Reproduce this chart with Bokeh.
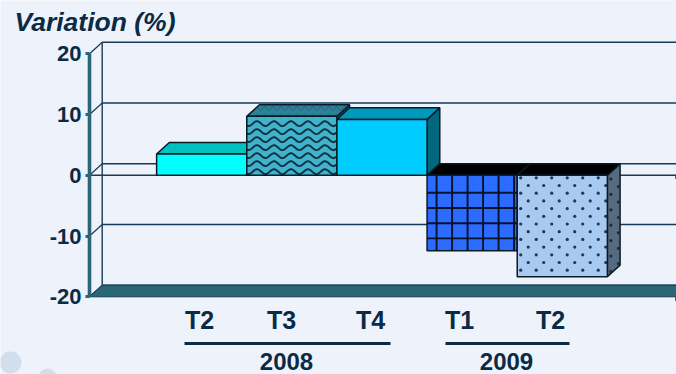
import numpy as np
from bokeh.plotting import figure
from bokeh.embed import file_html
from bokeh.resources import INLINE
from bokeh.models import BoxAnnotation, FixedTicker, Label, Range1d

# Quarterly variation, in percent
quarters = ["T2", "T3", "T4", "T1", "T2"]
values = [3.5, 9.7, 9.2, -12.4, -16.7]
years = ["2008", "2009"]
y_ticks = [-20, -10, 0, 10, 20]
y_labels = ["-20", "-10", "0", "10", "20"]
title_text = "Variation (%)"

front_colors = ["#00ffff", "#3fb2cc", "#00ccff", "#2b6cff", "#a8c9f0"]
top_colors = ["#00c0c0", "#2a8299", "#0099bb", "#000000", "#000000"]
side_colors = ["#007f80", "#1f6376", "#00677f", "#14358a", "#566a80"]

INK = "#0b2a45"
TEAL = "#2a6678"
BG = "#eef2fa"
LINE = "#173a58"

# Pixel layout of the page and the scale of each axis
W, H = 676, 374
X_PER_BAR, X_ZERO = 90.15, 201.2
Y_PER_UNIT, Y_ZERO = 6.075, 174.8
LEFT, RIGHT, LABEL_ANCHOR = 89, 676, 291


def xd(px):
    return (px - X_ZERO) / X_PER_BAR


def yd(px):
    return (Y_ZERO - px) / Y_PER_UNIT


DX = 12.7 / X_PER_BAR
DY = 11.6 / Y_PER_UNIT

p = figure(
    width=W, height=H, output_backend="svg", toolbar_location=None,
    x_range=Range1d(xd(0), xd(W)), y_range=Range1d(yd(H), yd(0)),
    min_border=0, background_fill_color=BG, border_fill_color=BG,
    outline_line_color=None,
)
p.grid.visible = False

# Soft decorative discs in the lower left corner
for cx, cy, r in [(10, 362, 11), (47, 377, 9)]:
    p.add_layout(BoxAnnotation(
        left=xd(cx - r), right=xd(cx + r), top=yd(cy - r), bottom=yd(cy + r),
        fill_color="#d3deed", fill_alpha=1, line_color=None, border_radius=r,
        level="underlay",
    ))

# Back wall: gridlines, their returns to the axis, and the left edge
x_left, x_right = xd(LEFT), xd(RIGHT)
p.segment(x0=[x_left + DX] * 5, x1=[x_right] * 5,
          y0=[t + DY for t in y_ticks], y1=[t + DY for t in y_ticks],
          line_color=LINE, line_width=1.4)
p.segment(x0=[x_left] * 5, x1=[x_left + DX] * 5,
          y0=y_ticks, y1=[t + DY for t in y_ticks],
          line_color=LINE, line_width=1.2)
p.segment(x0=[x_left + DX], x1=[x_left + DX],
          y0=[y_ticks[0] + DY], y1=[y_ticks[-1] + DY],
          line_color=LINE, line_width=1.4)

# Floor of the box
p.patch([x_left, x_left + DX, x_right, x_right],
        [-20, -20 + DY, -20 + DY, -20],
        fill_color=TEAL, line_color="#143c52", line_width=1)

# Zero line on the front plane and the small closing ticks at the right
p.segment(x0=[x_left], x1=[x_right], y0=[0], y1=[0],
          line_color=LINE, line_width=1.4)
p.segment(x0=[x_right - 0.006] * 2, x1=[x_right - 0.006] * 2,
          y0=[0, -20], y1=[-0.6, -20.7], line_color=LINE, line_width=1.4)


def wave_texture(x0, x1, lo, hi):
    """Rows of wavy lines that fill a bar's front face."""
    xs, ys = [], []
    grid = np.linspace(x0, x1, 90)
    row = lo + 0.6
    while row < hi - 0.2:
        xs.append(grid)
        ys.append(row + 0.4 * np.sin(grid * X_PER_BAR * 2 * np.pi / 17))
        row += 8.0 / Y_PER_UNIT
    return xs, ys


def cross_texture(x0, x1, lo, hi):
    """Square lattice of lines across a bar's front face."""
    vx = x0 + np.arange(9.5, (x1 - x0) * X_PER_BAR, 15.5) / X_PER_BAR
    hy = hi - np.arange(17.5, (hi - lo) * Y_PER_UNIT, 15.2) / Y_PER_UNIT
    return vx, hy


def dot_texture(x0, x1, lo, hi):
    """Staggered dots, one lattice step per row."""
    px, py = [], []
    rows = np.arange(2.5, (hi - lo) * Y_PER_UNIT, 7.7)
    for n, r in enumerate(rows):
        start = 7.5 if n % 2 else 0.0
        cols = np.arange(start + 3.5, (x1 - x0) * X_PER_BAR, 15.5)
        px.extend(x0 + cols / X_PER_BAR)
        py.extend([hi - r / Y_PER_UNIT] * len(cols))
    return px, py


# Bars, left to right, so that each one overlaps the one before it
edge = {"line_color": "#0a1a26", "line_width": 1.5}
for i, v in enumerate(values):
    x0, x1 = i - 0.5, i + 0.5
    hi, lo = max(v, 0), min(v, 0)
    top_pat = {}
    if i == 1:
        top_pat = {"hatch_pattern": "horizontal_wave", "hatch_color": "#0a2030",
                   "hatch_alpha": 0.35, "hatch_scale": 8, "hatch_weight": 1}
    p.patch([x1, x1 + DX, x1 + DX, x1], [lo, lo + DY, hi + DY, hi],
            fill_color=side_colors[i], **edge)
    p.patch([x0, x0 + DX, x1 + DX, x1], [hi, hi + DY, hi + DY, hi],
            fill_color=top_colors[i], **edge, **top_pat)
    p.quad(left=x0, right=x1, top=hi, bottom=lo,
           fill_color=front_colors[i], line_color=None)
    if i == 1:
        wx, wy = wave_texture(x0, x1, lo, hi)
        p.multi_line(wx, wy, line_color="#12303f", line_width=1.9)
    elif i == 3:
        vx, hy = cross_texture(x0, x1, lo, hi)
        p.segment(x0=vx, x1=vx, y0=[lo] * len(vx), y1=[hi] * len(vx),
                  line_color="#07122a", line_width=1.9)
        p.segment(x0=[x0] * len(hy), x1=[x1] * len(hy), y0=hy, y1=hy,
                  line_color="#07122a", line_width=1.9)
    elif i == 4:
        dx_, dy_ = dot_texture(x0, x1, lo, hi)
        p.scatter(dx_, dy_, size=3.2, marker="circle",
                  fill_color="#24384f", line_color=None)
        sx, sy = dot_texture(x1, x1 + DX, lo + 0.8, hi - 0.2)
        p.scatter(sx, sy, size=3.2, marker="circle",
                  fill_color="#1d2c3d", line_color=None)
    p.quad(left=x0, right=x1, top=hi, bottom=lo,
           fill_color=None, **edge)

# Value axis
p.yaxis.fixed_location = xd(LEFT)
p.yaxis.bounds = (y_ticks[0], y_ticks[-1])
p.yaxis.ticker = FixedTicker(ticks=y_ticks)
p.yaxis.major_label_overrides = dict(zip(y_ticks, y_labels))
p.yaxis.axis_line_color = TEAL
p.yaxis.axis_line_width = 3.6
p.yaxis.major_tick_line_color = TEAL
p.yaxis.major_tick_line_width = 3
p.yaxis.major_tick_in = 0
p.yaxis.major_tick_out = 4
p.yaxis.minor_tick_line_color = None
p.yaxis.major_label_text_font = "Liberation Sans"
p.yaxis.major_label_text_font_style = "bold"
p.yaxis.major_label_text_font_size = "22px"
p.yaxis.major_label_text_color = INK
p.yaxis.major_label_standoff = 4

# Quarter labels sit a little off the bar centres
label_px = [199, 281, 370, 459, 550]
label_pos = [round(xd(px), 4) for px in label_px]
p.xaxis.fixed_location = yd(LABEL_ANCHOR)
p.xaxis.ticker = FixedTicker(ticks=label_pos)
p.xaxis.major_label_overrides = dict(zip(label_pos, quarters))
p.xaxis.axis_line_color = None
p.xaxis.major_tick_line_color = None
p.xaxis.minor_tick_line_color = None
p.xaxis.major_label_text_font = "Liberation Sans"
p.xaxis.major_label_text_font_style = "bold"
p.xaxis.major_label_text_font_size = "25px"
p.xaxis.major_label_text_color = INK
p.xaxis.major_label_standoff = 8

# Year brackets and year names below the quarters
for (a, b), c, name in zip([(184, 390), (445, 569)], [286, 506], years):
    p.add_layout(BoxAnnotation(
        left=xd(a), right=xd(b), top=yd(341.5), bottom=yd(344.5),
        fill_color=INK, fill_alpha=1, line_color=None,
    ))
    p.add_layout(Label(
        x=xd(c), y=yd(360.5), text=name, text_align="center", text_baseline="middle",
        text_font="Liberation Sans", text_font_style="bold",
        text_font_size="24px", text_color=INK,
    ))

p.add_layout(Label(
    x=xd(14), y=yd(21), text=title_text, text_align="left", text_baseline="middle",
    text_font="Liberation Sans", text_font_style="bold italic",
    text_font_size="26.5px", text_color=INK,
))

open("out.html", "w").write(file_html(p, INLINE))
